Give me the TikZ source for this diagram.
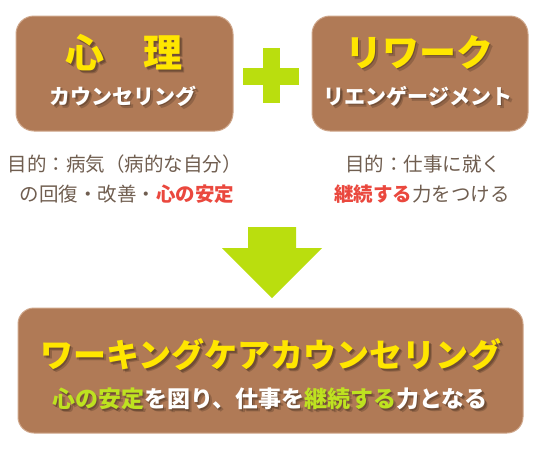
\documentclass[tikz,border=0pt]{standalone}
\usepackage{fontspec}
\newfontfamily\jp{Noto Sans CJK JP}
\usetikzlibrary{calc}
\definecolor{boxbrown}{RGB}{176,122,86}
\definecolor{boxrim}{RGB}{206,166,138}
\definecolor{ttlyellow}{RGB}{255,230,0}
\definecolor{plusgreen}{RGB}{186,222,14}
\definecolor{txtgreen}{RGB}{190,226,32}
\definecolor{accred}{RGB}{234,72,62}
\definecolor{descgray}{RGB}{112,94,80}
\def\gcol{txtgreen}
\newcommand\gr[1]{{\color{\gcol}#1}}
\newcommand\shnode[4]{%
  \node[#3, opacity=0.22] (#1s1) at ($(#2)+(1.5,1.5)$) {\def\gcol{black}\color{black}#4};
  \node[#3, opacity=0.18] (#1s2) at ($(#2)+(3,3)$) {\def\gcol{black}\color{black}#4};
  \node[#3] (#1) at (#2) {#4};}
\begin{document}
\begin{tikzpicture}[x=1pt,y=-1pt, every node/.style={inner sep=0pt, font=\jp}]
\tikzset{
  card/.style={fill=boxbrown, draw=boxrim, line width=1pt, rounded corners=18pt, minimum height=115pt},
  bar/.style={fill=plusgreen, rectangle},
  ttl/.style={text=ttlyellow, font=\jp\bfseries},
  sub/.style={text=white, font=\jp\bfseries\fontsize{21}{21}\selectfont},
  desc/.style={text=descgray, font=\jp\fontsize{19.5}{19.5}\selectfont}
}
\useasboundingbox (0,0) rectangle (555,453);
% top boxes
\node[card, minimum width=217pt] (psy) at (124.5,73.5) {};
\node[card, minimum width=216pt] (rew) at (420,73.5) {};
% plus
\node[bar, minimum width=17.3pt, minimum height=55pt] (plusv) at (271.3,75.5) {};
\node[bar, minimum width=56.3pt, minimum height=17pt] (plush) at (270.9,76.5) {};
% titles
\shnode{psyt}{124,53}{ttl, font=\jp\bfseries\fontsize{39}{39}\selectfont}{心　理}
\shnode{psys}{123,96}{sub}{カウンセリング}
\shnode{rewt}{419,52}{ttl, font=\jp\bfseries\fontsize{37}{37}\selectfont}{リワーク}
\shnode{rews}{418,96}{sub}{リエンゲージメント}
% descriptions
\node[desc] (dl1) at (125,164) {目的：病気（病的な自分）};
\node[desc] (dl2) at (127,194) {の回復・改善・{\color{accred}\bfseries 心の安定}};
\node[desc] (dr1) at (423,164) {目的：仕事に就く};
\node[desc] (dr2) at (422,194) {{\color{accred}\bfseries 継続する}力をつける};
% arrow
\fill[plusgreen] (248,227) -- (296,227) -- (296,248) -- (322,248) -- (272,298) -- (222,248) -- (248,248) -- cycle;
% bottom box
\node[card, rounded corners=16pt, minimum width=505pt, minimum height=125pt] (wcc) at (270.5,370.5) {};
\shnode{wcct}{271,355}{ttl, font=\jp\bfseries\fontsize{33}{33}\selectfont}{ワーキングケアカウンセリング}
\shnode{wccs}{270,399}{text=white, font=\jp\bfseries\fontsize{23}{23}\selectfont}{\gr{心の安定}を図り、仕事を\gr{継続する}力となる}
\end{tikzpicture}
\end{document}
